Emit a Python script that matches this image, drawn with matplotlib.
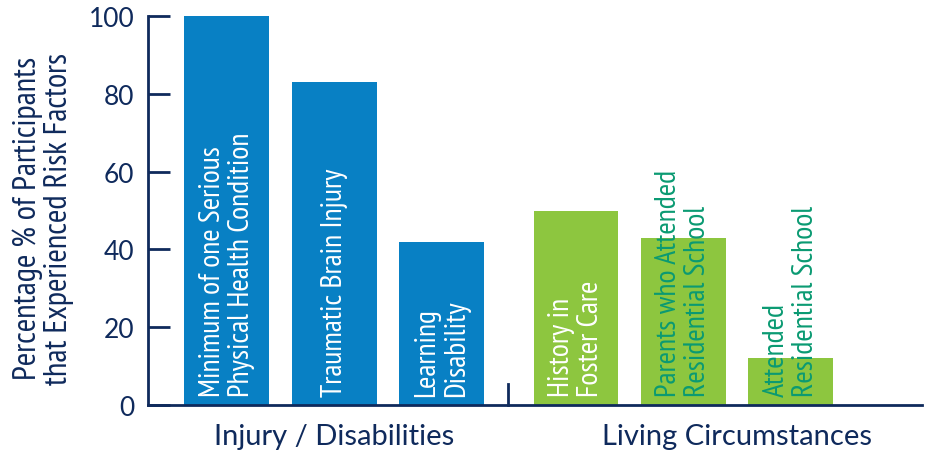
import matplotlib
matplotlib.use("Agg")
import matplotlib.pyplot as plt
import matplotlib.transforms as mtransforms

# data
labels = ["Minimum of one Serious\nPhysical Health Condition",
          "Traumatic Brain Injury",
          "Learning\nDisability",
          "History in\nFoster Care",
          "Parents who Attended\nResidential School",
          "Attended\nResidential School"]
values = [100, 83, 42, 50, 43, 12]
groups = ["Injury / Disabilities", "Living Circumstances"]
yticks = [0, 20, 40, 60, 80, 100]

blue = "#0880c4"
green = "#8dc63f"
navy = "#0f2a5c"
teal = "#0a9a72"
bar_colors = [blue, blue, blue, green, green, green]
text_colors = ["white", "white", "white", "white", teal, teal]

xpos = [0, 1, 2, 3.25, 4.25, 5.25]

label_font = "PT Sans Narrow"
num_font = "Lato"

fig = plt.figure(figsize=(9.27, 4.56), dpi=100)
ax = fig.add_axes([0.16, 0.1096, 0.8346, 0.8531])

ax.bar(xpos, values, width=0.79, color=bar_colors, zorder=2)

for x, lab, c in zip(xpos, labels, text_colors):
    ax.text(x, 2.2, lab, rotation=90, ha="center", va="bottom",
            multialignment="left", color=c, fontsize=21.5, fontweight="normal",
            family=label_font, linespacing=1.1, zorder=3)

ax.set_xlim(-0.73, 6.47)
ax.set_ylim(0, 100)
ax.set_yticks(yticks)
ax.set_yticklabels([str(v) for v in yticks], family=num_font, fontsize=19, color=navy)
ax.set_xticks([])
ax.tick_params(axis="y", direction="in", length=16, width=2, color=navy, pad=10)

for s in ["top", "right"]:
    ax.spines[s].set_visible(False)
for s in ["left", "bottom"]:
    ax.spines[s].set_color(navy)
    ax.spines[s].set_linewidth(2)

# small divider between the two groups
ax.plot([2.62, 2.62], [0, 5.4], color=navy, lw=2, clip_on=False, zorder=3)

trans = mtransforms.blended_transform_factory(ax.transData, ax.transAxes)
ax.text(1.0, -0.08, groups[0], transform=trans, ha="center", va="center",
        family=num_font, fontsize=21, color=navy)
ax.text(4.75, -0.08, groups[1], transform=trans, ha="center", va="center",
        family=num_font, fontsize=21, color=navy)

fig.text(0.047, 0.52, "Percentage % of Participants\nthat Experienced Risk Factors",
         rotation=90, ha="center", va="center", family=label_font,
         fontsize=23.5, fontweight="normal", color=navy, linespacing=1.05)

fig.savefig("out.png", dpi=100)
